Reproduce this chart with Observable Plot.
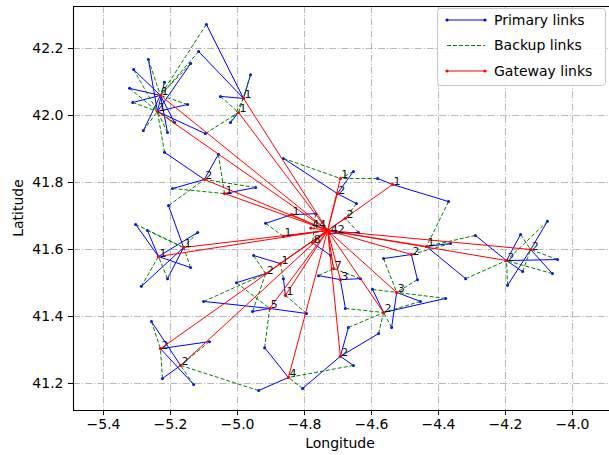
<!DOCTYPE html>
<html><head><meta charset="utf-8">
<script src="https://cdn.jsdelivr.net/npm/d3@7"></script>
<script src="https://cdn.jsdelivr.net/npm/@observablehq/plot@0.6"></script>
<style>body{margin:0;background:#fff;} #chart{width:609px;height:455px;}</style>
</head><body><div id="chart"></div>
<script>
const gateway = {lon: -4.731, lat: 41.657};
const headLon = [-5.230,-5.239,-4.982,-4.997,-5.099,-5.039,-5.236,-5.161,-5.230,-5.170,-4.839,-4.863,-4.776,-4.781,-4.725,-4.693,-4.702,-4.678,-4.537,-4.436,-4.481,-4.125,-4.197,-4.525,-4.564,-4.713,-4.693,-4.916,-4.872,-4.857,-4.904,-4.848,-4.693];
const headLat = [42.060,42.012,42.051,42.009,41.809,41.767,41.579,41.606,41.304,41.254,41.704,41.639,41.620,41.664,41.648,41.812,41.767,41.693,41.794,41.609,41.585,41.600,41.567,41.472,41.412,41.543,41.510,41.528,41.558,41.463,41.424,41.218,41.281];
const headLabel = ["1","1","1","1","2","1","1","1","2","2","1","1","8","44","42","1","2","2","1","1","2","2","2","3","2","7","3","2","1","1","5","4","2"];
const nodeLon = [-5.093,-5.116,-5.140,-5.266,-5.310,-5.322,-5.313,-5.218,-5.149,-5.188,
 -5.209,-5.281,-5.096,-5.218,-4.961,-5.051,-5.021,-5.057,-5.194,-4.946,
 -5.206,-5.304,-5.269,-5.119,-5.140,-5.209,-5.287,-5.257,-5.084,-5.224,
 -5.131,-4.916,-4.767,-4.863,-4.654,-4.582,-4.645,-4.639,-4.722,-4.370,
 -4.290,-4.364,-4.319,-4.564,-4.463,-4.075,-4.155,-4.045,-4.060,-4.149,
 -4.194,-4.597,-4.379,-4.454,-4.540,-4.579,-4.678,-4.758,-4.633,-4.952,
 -5.003,-4.863,-4.955,-4.794,-5.101,-4.919,-4.669,-4.654,-4.806,-4.937];
const nodeLat = [42.272,42.191,42.155,42.167,42.137,42.081,42.039,42.099,42.033,41.979,
 41.949,41.955,41.946,41.890,42.122,42.057,41.979,41.884,41.782,41.785,
 41.731,41.675,41.657,41.651,41.546,41.513,41.490,41.385,41.325,41.215,
 41.197,41.678,41.707,41.872,41.833,41.812,41.737,41.651,41.582,41.743,
 41.642,41.618,41.513,41.573,41.510,41.684,41.645,41.570,41.528,41.534,
 41.493,41.481,41.454,41.445,41.367,41.349,41.424,41.522,41.513,41.582,
 41.501,41.513,41.415,41.409,41.445,41.307,41.367,41.254,41.185,41.179];
const nodePrimary = [2,2,1,1,0,0,0,1,1,0, 0,0,1,4,2,2,3,4,4,5, 7,6,6,6,6,7,7,9,8,9,
 8,10,10,16,16,18,16,14,12,18, 22,19,19,20,20,21,22,22,21,22, 21,24,24,23,23,32,26,26,26,28,
 27,29,30,30,30,31,32,32,32,31];
const nodeBackup = [0,0,0,0,1,1,1,0,0,1, 1,1,3,1,3,3,2,5,5,4, 4,7,7,7,7,6,6,8,9,8,
 9,11,12,15,15,15,17,17,25,19, 19,20,22,23,23,22,21,21,22,21, 22,23,23,24,24,24,24,25,25,27,
 30,28,27,29,27,30,24,31,31,9];
const xTicks = [-5.4,-5.2,-5.0,-4.8,-4.6,-4.4,-4.2,-4.0];
const yTicks = [41.2,41.4,41.6,41.8,42.0,42.2];
const xDomain = [-5.4896, -3.8896];
const yDomain = [41.1194, 42.3254];
const legendLabels = ["Primary links","Backup links","Gateway links"];
const legendColors = ["blue","green","red"];

const heads = headLon.map((lon,i)=>({lon, lat: headLat[i], label: headLabel[i]}));
const nodes = nodeLon.map((lon,i)=>({lon, lat: nodeLat[i], p: nodePrimary[i], b: nodeBackup[i]}));
const primary = nodes.map(n=>({x1:n.lon,y1:n.lat,x2:heads[n.p].lon,y2:heads[n.p].lat}));
const backup = nodes.filter(n=>n.b>=0).map(n=>({x1:n.lon,y1:n.lat,x2:heads[n.b].lon,y2:heads[n.b].lat}));
const gw = heads.map(h=>({x1:gateway.lon,y1:gateway.lat,x2:h.lon,y2:h.lat}));
const fmt = d3.format(".1f");
const L = {x1:"x1",y1:"y1",x2:"x2",y2:"y2"};

const svg = Plot.plot({
  width: 609, height: 455,
  marginLeft: 73, marginRight: 0, marginTop: 6, marginBottom: 45,
  x: {domain: xDomain},
  y: {domain: yDomain},
  style: {fontFamily: "DejaVu Sans", fontSize: "14px", color: "black", background: "white"},
  marks: [
    Plot.gridX(xTicks, {stroke: "#b0b0b0", strokeOpacity: 0.9, strokeWidth: 1, strokeDasharray: "7,2,1.2,2"}),
    Plot.gridY(yTicks, {stroke: "#b0b0b0", strokeOpacity: 0.9, strokeWidth: 1, strokeDasharray: "7,2,1.2,2"}),
    Plot.link(primary, {...L, stroke: "blue", strokeWidth: 1}),
    Plot.dot(nodes, {x: "lon", y: "lat", r: 1.5, fill: "blue"}),
    Plot.link(backup, {...L, stroke: "green", strokeWidth: 1, strokeDasharray: "4,2"}),
    Plot.link(gw, {...L, stroke: "red", strokeWidth: 1}),
    Plot.dot(heads, {x: "lon", y: "lat", r: 1.6, fill: "red"}),
    Plot.dot([gateway], {x: "lon", y: "lat", r: 1.6, fill: "red"}),
    Plot.text(heads, {x: "lon", y: "lat", text: "label", textAnchor: "start", lineAnchor: "bottom", fontSize: 11, fill: "#111", dx: 1}),
    Plot.axisX({ticks: xTicks, tickFormat: fmt, tickSize: 5, tickPadding: 4, label: null, fontSize: 14}),
    Plot.axisY({ticks: yTicks, tickFormat: fmt, tickSize: 5, tickPadding: 5, label: null, fontSize: 14}),
    Plot.ruleX([xDomain[0]], {stroke: "black", strokeWidth: 1.1}),
    Plot.ruleY([yDomain[0], yDomain[1]], {stroke: "black", strokeWidth: 1.1})
  ]
});

const s = d3.select(svg);
s.append("text").attr("x", 340).attr("y", 448).attr("text-anchor", "middle")
  .attr("font-size", 14).attr("fill", "black").text("Longitude");
s.append("text").attr("transform", "translate(23,208) rotate(-90)").attr("text-anchor", "middle")
  .attr("font-size", 14).attr("fill", "black").text("Latitude");

const g = s.append("g").attr("text-anchor", "start");
g.append("rect").attr("x", 437.5).attr("y", 8.5).attr("width", 168).attr("height", 77).attr("rx", 3)
  .attr("fill", "white").attr("fill-opacity", 0.85).attr("stroke", "#c8c8c8").attr("stroke-width", 1);
legendLabels.forEach((t, i) => {
  const y = 20 + i * 25.5;
  const c = legendColors[i];
  g.append("line").attr("x1", 447).attr("x2", 485).attr("y1", y).attr("y2", y)
    .attr("stroke", c).attr("stroke-width", 1).attr("stroke-dasharray", i === 1 ? "4,2" : null);
  if (i !== 1) {
    g.append("circle").attr("cx", 447).attr("cy", y).attr("r", 1.6).attr("fill", c);
    g.append("circle").attr("cx", 485).attr("cy", y).attr("r", 1.6).attr("fill", c);
  }
  g.append("text").attr("x", 494).attr("y", y).attr("dy", "0.35em").attr("font-size", 14)
    .attr("text-anchor", "start").attr("fill", "black").text(t);
});

document.getElementById("chart").appendChild(svg);
</script>
</body></html>
